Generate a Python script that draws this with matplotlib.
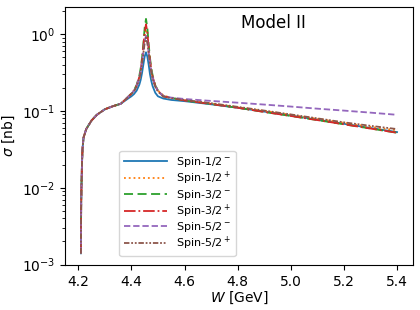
import numpy as np
import matplotlib
matplotlib.use("Agg")
import matplotlib.pyplot as plt

# Energy grid (GeV)
W = [4.21, 4.2105, 4.211, 4.212, 4.214, 4.216, 4.22, 4.23, 4.24, 4.25, 4.27,
     4.30, 4.33, 4.36,
     4.39, 4.40, 4.41, 4.42, 4.43, 4.435, 4.44, 4.445, 4.45, 4.455, 4.46,
     4.465, 4.47, 4.475, 4.48, 4.49, 4.50, 4.52, 4.55,
     4.60, 4.70, 4.80, 4.90, 5.00, 5.10, 5.20, 5.30, 5.40]

# common rise from threshold (nb)
rise = [0.0014, 0.003, 0.006, 0.010, 0.020, 0.032, 0.045, 0.058, 0.066, 0.075,
        0.089, 0.105, 0.115, 0.124]

# cross sections (nb) from 4.39 GeV on
s12m = [0.147, 0.155, 0.166, 0.184, 0.220, 0.254, 0.31, 0.40, 0.51, 0.58, 0.51,
        0.40, 0.30, 0.245, 0.210, 0.172, 0.155, 0.145, 0.139,
        0.134, 0.122, 0.110, 0.098, 0.087, 0.077, 0.068, 0.060, 0.053]
s12p = [0.154, 0.167, 0.184, 0.212, 0.256, 0.332, 0.435, 0.62, 0.908, 1.10, 0.908,
        0.62, 0.435, 0.332, 0.256, 0.212, 0.184, 0.160, 0.147,
        0.138, 0.125, 0.112, 0.100, 0.089, 0.079, 0.070, 0.062, 0.056]
s32m = [0.156, 0.168, 0.187, 0.219, 0.289, 0.36, 0.49, 0.745, 1.21, 1.58, 1.21,
        0.745, 0.49, 0.36, 0.289, 0.215, 0.185, 0.155, 0.148,
        0.137, 0.123, 0.110, 0.097, 0.086, 0.076, 0.067, 0.059, 0.052]
s32p = [0.155, 0.168, 0.185, 0.214, 0.278, 0.34, 0.457, 0.678, 1.057, 1.34, 1.057,
        0.678, 0.457, 0.34, 0.278, 0.212, 0.183, 0.155, 0.148,
        0.137, 0.123, 0.110, 0.097, 0.086, 0.076, 0.067, 0.059, 0.052]
s52m = [0.155, 0.168, 0.183, 0.213, 0.271, 0.328, 0.423, 0.584, 0.811, 0.95, 0.811,
        0.584, 0.423, 0.328, 0.271, 0.211, 0.182, 0.156, 0.149,
        0.143, 0.135, 0.128, 0.121, 0.114, 0.107, 0.101, 0.095, 0.089]
s52p = [0.153, 0.166, 0.180, 0.208, 0.263, 0.317, 0.406, 0.556, 0.77, 0.90, 0.77,
        0.556, 0.406, 0.317, 0.263, 0.206, 0.179, 0.154, 0.147,
        0.139, 0.126, 0.113, 0.101, 0.090, 0.080, 0.071, 0.064, 0.058]

labels = [r"Spin-1/2$^-$", r"Spin-1/2$^+$", r"Spin-3/2$^-$",
          r"Spin-3/2$^+$", r"Spin-5/2$^-$", r"Spin-5/2$^+$"]
styles = ["-", ":", (0, (5, 2.5)), "-.", (0, (3.5, 1.6)), (0, (3, 1, 1, 1, 1, 1))]

fig = plt.figure(figsize=(4.2, 3.1), dpi=100)
ax = fig.add_axes([0.155, 0.145, 0.828, 0.832])

for s, lab, ls in zip([s12m, s12p, s32m, s32p, s52m, s52p], labels, styles):
    ax.plot(W, rise + s, ls=ls, lw=1.3, label=lab)

ax.set_yscale("log")
ax.set_xlabel(r"$W$ [GeV]", fontsize=10, labelpad=1)
ax.set_ylabel(r"$\sigma$ [nb]", fontsize=10)
ax.tick_params(labelsize=10)
ax.text(0.6, 0.94, "Model II", transform=ax.transAxes, fontsize=12,
        ha="center", va="center")
ax.legend(loc="lower left", bbox_to_anchor=(0.14, 0.012), fontsize=8,
          handlelength=3.9, labelspacing=0.05)

fig.savefig("out.png", dpi=100)
